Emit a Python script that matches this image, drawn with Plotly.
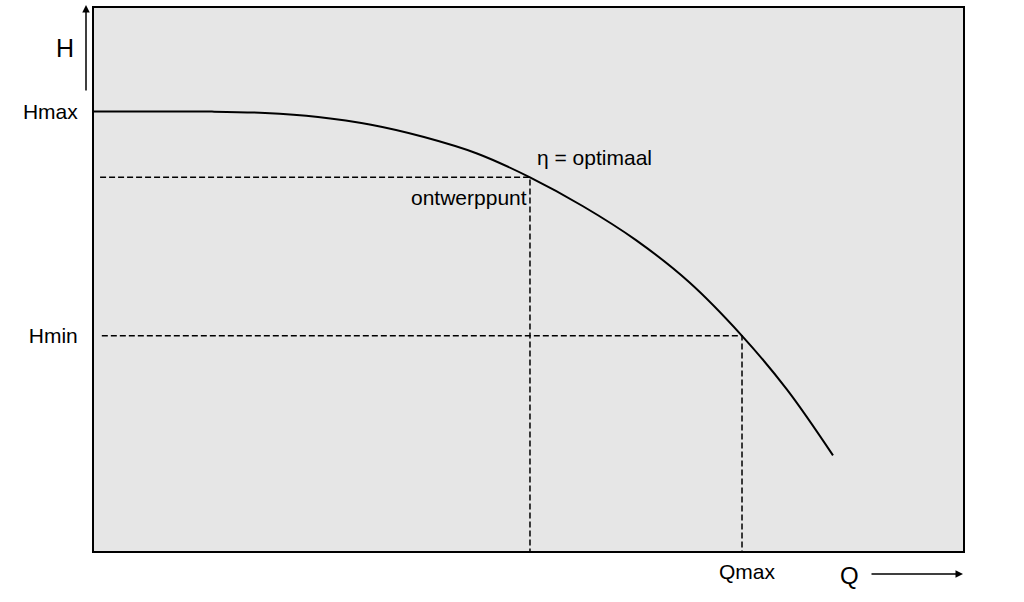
import plotly.graph_objects as go

# Pump curve H(Q) (relative units, axes 0..100)
Q = [0, 7.48, 13.58, 19.68, 25.78, 31.88, 37.97, 44.07, 50.17, 56.27, 62.37, 68.47, 74.57, 79.75, 85.04]
H = [80.92, 80.92, 80.92, 80.68, 79.93, 78.50, 76.24, 73.21, 68.81, 63.49, 57.25, 49.54, 39.63, 29.72, 17.61]

Hmax = 80.92
Q_opt, H_opt = 50.17, 68.81     # ontwerppunt
Q_max, H_min = 74.57, 39.63

tick_h = ["Hmax", "Hmin"]
tick_q = ["Qmax"]

FONT = "Liberation Sans, Arial, sans-serif"
dash_style = dict(color="black", width=1.5, dash="6px,3px")

fig = go.Figure()

# dashed guide lines
fig.add_trace(go.Scatter(x=[0.7, Q_opt, Q_opt], y=[H_opt, H_opt, 0], mode="lines",
                         line=dash_style, hoverinfo="skip", showlegend=False))
fig.add_trace(go.Scatter(x=[0.9, Q_max, Q_max], y=[H_min, H_min, 0], mode="lines",
                         line=dash_style, hoverinfo="skip", showlegend=False))
# pump curve
fig.add_trace(go.Scatter(x=Q, y=H, mode="lines",
                         line=dict(color="black", width=2, shape="spline", smoothing=1),
                         showlegend=False))

fig.update_layout(
    width=1024, height=602,
    margin=dict(l=94, r=61, t=6, b=51),
    paper_bgcolor="white",
    plot_bgcolor="#e6e6e6",
    font=dict(family=FONT, size=21, color="black"),
    xaxis=dict(range=[0, 100], showgrid=False, zeroline=False, showline=True, mirror=True,
               linecolor="black", linewidth=2, tickvals=[Q_max], ticktext=tick_q,
               ticks="", ticklabelstandoff=1, ticklabelshift=5, tickfont=dict(size=21)),
    yaxis=dict(range=[0, 100], showgrid=False, zeroline=False, showline=True, mirror=True,
               linecolor="black", linewidth=2, tickvals=[Hmax, H_min], ticktext=tick_h,
               ticks="", ticklabelstandoff=10, tickfont=dict(size=21)),
    annotations=[
        dict(x=Q_opt, y=H_opt, xref="x", yref="y", text="η = optimaal", showarrow=False,
             xanchor="left", yanchor="middle", xshift=5, yshift=20, font=dict(size=21)),
        dict(x=Q_opt, y=H_opt, xref="x", yref="y", text="ontwerppunt", showarrow=False,
             xanchor="right", yanchor="middle", xshift=-1, yshift=-20, font=dict(size=21)),
        # H axis label and arrow
        dict(x=-29 / 869, y=(551 - 46) / 545, xref="paper", yref="paper", text="H",
             showarrow=False, xanchor="center", yanchor="middle", font=dict(size=25)),
        dict(x=-8 / 869, y=(551 - 3) / 545, xref="paper", yref="paper", text="",
             showarrow=True, ax=0, ay=87, axref="pixel", ayref="pixel",
             arrowhead=2, arrowsize=1, arrowwidth=1.5, arrowcolor="black"),
        # Q axis label and arrow
        dict(x=(849 - 94) / 869, y=(551 - 576) / 545, xref="paper", yref="paper", text="Q",
             showarrow=False, xanchor="center", yanchor="middle", font=dict(size=24)),
        dict(x=(963 - 94) / 869, y=(551 - 574) / 545, xref="paper", yref="paper", text="",
             showarrow=True, ax=-93, ay=0, axref="pixel", ayref="pixel",
             arrowhead=2, arrowsize=1, arrowwidth=1.5, arrowcolor="black"),
    ],
)

fig.write_html("out.html", config={"displayModeBar": False},
               post_script="document.body.style.margin='0';")
